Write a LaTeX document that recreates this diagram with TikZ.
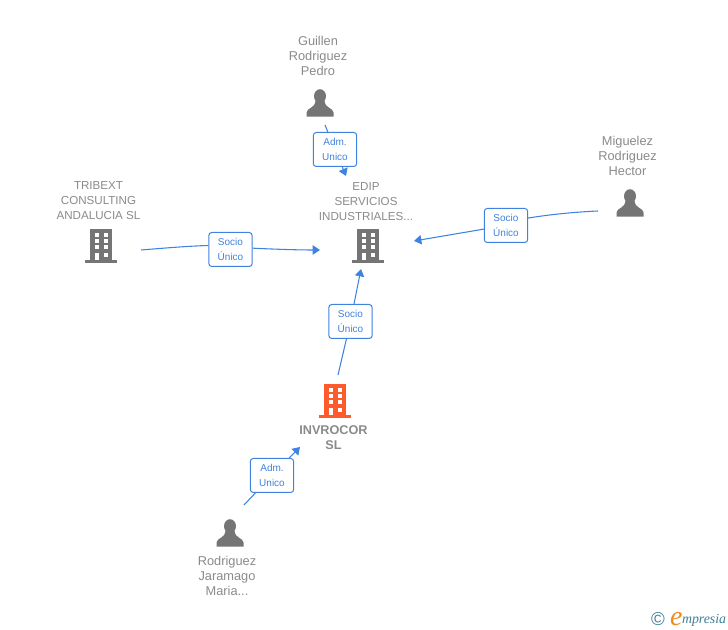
\documentclass[tikz,border=0pt]{standalone}
\usepackage{fontspec}
\setmainfont{Liberation Sans}
\newfontfamily\logofont{Liberation Serif}
\usetikzlibrary{arrows.meta}
\definecolor{icongray}{HTML}{757575}
\definecolor{textgray}{HTML}{8A8A8A}
\definecolor{linkblue}{HTML}{3F83E0}
\definecolor{hot}{HTML}{FF5A2B}
\definecolor{logoteal}{HTML}{3E7F96}
\definecolor{logoorange}{HTML}{F08A1E}
\tikzset{
  x=0.75pt,y=-0.75pt,
  anchorpt/.style={inner sep=0pt,outer sep=0pt,minimum size=0pt},
  name text/.style={anchorpt,align=center,text=textgray,font=\fontsize{9.6}{11.25}\selectfont},
  caps text/.style={name text,font=\fontsize{8.7}{11.25}\selectfont},
  bold text/.style={name text,font=\fontsize{9.5}{11.25}\selectfont\bfseries},
  relbox/.style={draw=linkblue,line width=0.75pt,rounded corners=2.2pt,fill=white,text=linkblue,
    minimum width=32.5pt,minimum height=25.5pt,inner sep=0pt,align=center,
    font=\fontsize{7.5}{11.1}\selectfont},
  link/.style={draw=linkblue,line width=0.8pt},
  linkhead/.style={link,-{Triangle[length=5.5pt,width=7pt]}},
  pics/building/.style={code={
    \fill[#1] (-11,-17) rectangle (11,15);
    \fill[#1] (-16,14) rectangle (16,17);
    \foreach \yy in {-13,-7,-1,7}{\fill[white] (-6.5,\yy) rectangle (-2,{\yy+3.6});}
    \foreach \yy in {-13,-7,-1,7}{\fill[white] (2.5,\yy) rectangle (7,{\yy+3.6});}
    \fill[white] (-6.5,7) rectangle (-2,14.5);
  }},
  pics/person/.style={code={
    \fill[icongray] (0,-6.8) ellipse (6 and 7);
    \fill[icongray] (-13.5,13.7) -- (-13.5,9.5) .. controls (-13.5,5) and (-5,5.5) .. (-4.6,-2)
      -- (4.6,-2) .. controls (5,5.5) and (13.5,5) .. (13.5,9.5) -- (13.5,13.7) -- cycle;
  }}
}
\begin{document}
\begin{tikzpicture}
\useasboundingbox (0,0) rectangle (728,630);
% end points of the connectors
\coordinate (guillenOut) at (325,125);
\coordinate (guillenIn) at (346,176);
\coordinate (tribextOut) at (141,250);
\coordinate (tribextIn) at (320,250);
\coordinate (miguelezOut) at (598,211);
\coordinate (miguelezIn) at (414,241);
\coordinate (invrocorOut) at (338,375);
\coordinate (invrocorIn) at (361,269);
\coordinate (rodriguezOut) at (244,505);
\coordinate (rodriguezIn) at (300,447);
% icons
\pic at (101,246) {building=icongray};
\pic at (368,246) {building=icongray};
\pic at (335,401) {building=hot};
\pic at (320,103) {person};
\pic at (630,203) {person};
\pic at (230,533) {person};
% names
\node[name text] (guillen) at (318,56) {Guillen\\Rodriguez\\Pedro};
\node[caps text] (edip) at (366,201.5) {EDIP\\SERVICIOS\\INDUSTRIALES...};
\node[caps text] (tribext) at (98.5,200.5) {TRIBEXT\\CONSULTING\\ANDALUCIA SL};
\node[name text] (miguelez) at (627.5,156) {Miguelez\\Rodriguez\\Hector};
\node[bold text] (invrocor) at (333.5,437.5) {INVROCOR\\SL};
\node[name text] (rodriguez) at (227,576) {Rodriguez\\Jaramago\\Maria...};
% relation labels
\node[relbox] (r1) at (335,149.5) {Adm.\\Unico};
\node[relbox] (r2) at (230.5,249.5) {Socio\\Único};
\node[relbox] (r3) at (506,225.5) {Socio\\Único};
\node[relbox] (r4) at (350.5,321.5) {Socio\\Único};
\node[relbox] (r5) at (272,475.5) {Adm.\\Unico};
% connectors
\draw[link] (guillenOut) -- (r1);
\draw[linkhead] (r1) -- (guillenIn);
\draw[link] (tribextOut) .. controls (165,248) and (190,246) .. ([yshift=3pt]r2.west);
\draw[linkhead] ([yshift=1pt]r2.east) .. controls (270,249) and (295,250) .. (tribextIn);
\draw[link] (miguelezOut) .. controls (575,212) and (550,214.5) .. ([yshift=5.6pt]r3.east);
\draw[linkhead] ([yshift=-2.7pt]r3.west) -- (miguelezIn);
\draw[link] (invrocorOut) -- (r4);
\draw[linkhead] (r4) -- (invrocorIn);
\draw[link] (rodriguezOut) -- (r5);
\draw[linkhead] (r5) -- (rodriguezIn);
% logo
\node[anchorpt,text=logoteal,font=\fontsize{14}{14}\selectfont] (logoC) at (658,619) {©};
\node[anchorpt,anchor=base west,text=logoorange,font=\logofont\itshape\fontsize{21}{21}\selectfont] (logoE) at (670,625) {e};
\node[anchorpt,anchor=base west,text=logoteal,font=\logofont\itshape\fontsize{10.4}{10.4}\selectfont] (logoM) at (682,623.5) {mpresia};
\end{tikzpicture}
\end{document}
